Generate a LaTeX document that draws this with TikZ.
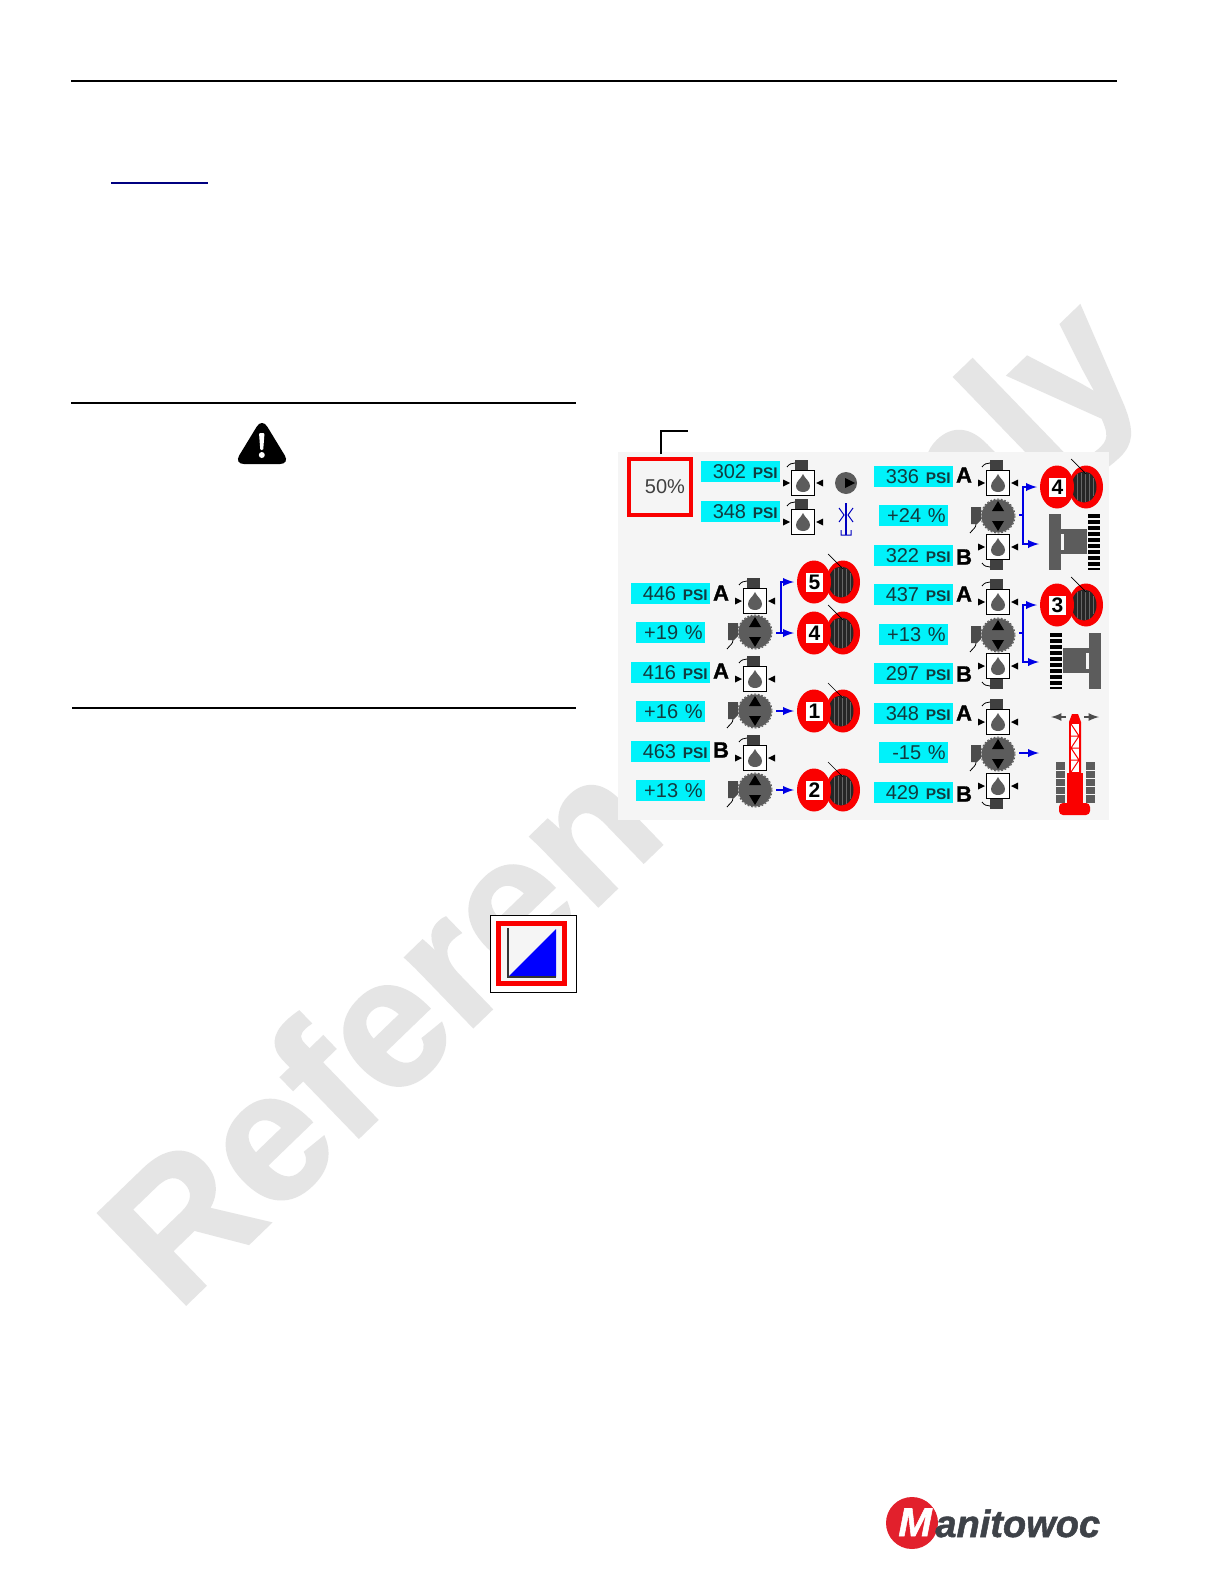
\documentclass[tikz,border=0pt]{standalone}
\usepackage{fontspec}
\setmainfont{Liberation Sans}
\newfontfamily\logofont[FakeBold=1.3]{Liberation Sans}
\usetikzlibrary{calc, positioning}

\definecolor{panelgrey}{HTML}{F5F5F5}
\definecolor{markgrey}{HTML}{E5E5E5}
\definecolor{readcyan}{HTML}{00F2FA}
\definecolor{readink}{HTML}{123C40}
\definecolor{iconred}{HTML}{FA0000}
\definecolor{icongrey}{HTML}{5C5C5C}
\definecolor{logored}{HTML}{E2202C}
\definecolor{logoink}{HTML}{3E4248}

\tikzset{
    rule/.style={line width=1.2pt, black},
    readout/.style={fill=readcyan, text=readink, inner xsep=1.2pt, inner ysep=0pt, text width=37.1pt, align=right, minimum height=10.5pt, font=\fontsize{10}{10}\selectfont},
    pctout/.style={fill=readcyan, text=readink, inner xsep=1.2pt, inner ysep=0pt, text width=32.1pt, align=right, minimum height=10.5pt, font=\fontsize{10}{10}\selectfont},
    tagletter/.style={inner sep=0pt, font=\logofont\bfseries\fontsize{11}{11}\selectfont},
    flowline/.style={blue!90!black, line width=0.9pt, -latex},
    flowstub/.style={blue!90!black, line width=0.9pt},
    pics/valvebox/.style={code={
        \begin{scope}[yscale=#1]
            \fill[black!75] (-8,-23) rectangle (5,-12.5);
            \draw[black, line width=0.4pt] (-8,-20) .. controls (-11,-20) and (-14,-19) .. (-16,-16);
        \end{scope}
        \draw[black, line width=0.8pt, fill=white] (-11.5,-12.5) rectangle (11.5,12.5);
        \fill[icongrey] (0,-9) .. controls (2,-4) and (7,-2) .. (7,3) .. controls (7,11) and (-7,11) .. (-7,3) .. controls (-7,-2) and (-2,-4) .. (0,-9);
        \fill[black] (-20,-3.5) -- (-13,0) -- (-20,3.5) -- cycle;
        \fill[black] (20,-3.5) -- (13,0) -- (20,3.5) -- cycle;
    }},
    pics/pumpgear/.style={code={
        \fill[icongrey] (0,0) circle (16.5);
        \draw[icongrey, line width=0.5pt, dash pattern=on 0.9pt off 0.9pt] (0,0) circle (17);
        \fill[black] (0,-15) -- (6,-5) -- (-6,-5) -- cycle;
        \fill[black] (0,15) -- (6,5) -- (-6,5) -- cycle;
        \fill[black!70] (-27,-9) -- (-17,-9) -- (-17,4) -- (-21,8) -- (-27,8) -- cycle;
        \draw[black, line width=0.4pt] (-22,8) .. controls (-22,12) and (-25,13) .. (-28,17);
        \coordinate (-port) at (21,0);
    }},
    pics/hoistdrum/.style={code={
        \fill[iconred] (29,0) ellipse [x radius=17, y radius=21.5];
        \fill[black!85] (27,0) ellipse [x radius=12.5, y radius=15.5];
        \draw[white!40!black, line width=0.3pt] (20,-13) -- (20,13) (24,-14.5) -- (24,14.5) (28,-15) -- (28,15) (32,-13.5) -- (32,13.5) (36,-9) -- (36,9);
        \fill[iconred] (0,0) ellipse [x radius=17, y radius=21.5];
        \draw[black, line width=0.35pt] (14,-28) -- (29,-13);
        \node[fill=white, inner sep=0pt, minimum width=8.5pt, minimum height=9.5pt, font=\bfseries\fontsize{10.5}{10.5}\selectfont] (-label) at (0.5,0) {#1};
        \coordinate (-port) at (-20,0);
    }},
    pics/crawlerframe/.style={code={
        \fill[icongrey] (-26,-28) rectangle (-14,28);
        \fill[icongrey] (-14,-13) rectangle (12,12);
        \fill[panelgrey] (-14,-8) rectangle (-11,8);
        \draw[black, line width=6pt, dash pattern=on 2pt off 1pt] (19,-28) -- (19,28);
        \coordinate (-port) at (-29,0);
    }}
}

\begin{document}
\begin{tikzpicture}[x=0.5pt, y=-0.5pt]
    \useasboundingbox (0,0) rectangle (1224,1584);
    \fill[white] (0,0) rectangle (1224,1584);

    % watermark first, the panel sits on it
    \node[rotate=44, anchor=base west, inner sep=0pt, text=markgrey, font=\logofont\bfseries\fontsize{92}{92}\selectfont] (watermark) at (177,1313) {Reference Only};

    % page rules
    \draw[rule] (71,81) -- (1117,81);
    \draw[blue!50!black, line width=0.6pt] (111,183) -- (208,183);
    \draw[rule] (71,403) -- (576,403);
    \draw[rule] (72,708) -- (576,708);

    % warning sign
    \fill[black, rounded corners=5pt] (262,418) -- (290,464) -- (234,464) -- cycle;
    \fill[white, rounded corners=0.5pt] (259,433) -- (264.5,433) -- (263.2,450) -- (260.3,450) -- cycle;
    \fill[white] (261.8,455) circle (3);

    % ramp icon
    \draw[black, line width=0.5pt, fill=white] (490,915) rectangle (576,992);
    \draw[iconred, line width=2.5pt, fill=panelgrey] (498.5,923.5) rectangle (564.5,983.5);
    \fill[blue] (508,977) -- (556,977) -- (556,929) -- cycle;
    \draw[black!80, line width=0.6pt] (508,928) -- (508,977) -- (556,977);

    % panel
    \fill[panelgrey] (618,452) rectangle (1109,820);

    \node[draw=iconred, line width=2.4pt, minimum width=31pt, minimum height=28pt, inner sep=0pt] (speedbox) at (660,487) {};
    \node[inner sep=0pt, text=black!75, font=\fontsize{10}{10}\selectfont] (speedtext) at (665,487) {50\%};
    \coordinate (leadstart) at (661,454);
    \coordinate (leadend) at (688,431);
    \draw[black, line width=0.9pt] (leadstart) |- (leadend);

    % top pair
    \node[readout] (readA) at (740.5,471.5) {302 {\bfseries\fontsize{7.7}{7.7}\selectfont PSI}};
    \node[readout] (readB) at (740.5,511.5) {348 {\bfseries\fontsize{7.7}{7.7}\selectfont PSI}};
    \pic (chargeA) at (803,483) {valvebox=1};
    \pic (chargeB) at (803,522) {valvebox=1};
    \fill[icongrey] (846,483) circle (11);
    \fill[black] (845,478) -- (855,483) -- (845,488) -- cycle;
    \draw[blue!75!black, line width=0.6pt] (846,503) -- (846,535);
    \draw[blue!75!black, line width=0.5pt] (839,508) -- (844,515) -- (839,522) (853,508) -- (848,515) -- (853,522) (841,530) -- (841,535) -- (851,535) -- (851,530);

    % left column
    \node[readout] (readC) at (670.5,593.5) {446 {\bfseries\fontsize{7.7}{7.7}\selectfont PSI}};
    \node[pctout] (pctC) at (670.5,632.5) {+19 \%};
    \node[readout] (readD) at (670.5,672.5) {416 {\bfseries\fontsize{7.7}{7.7}\selectfont PSI}};
    \node[pctout] (pctD) at (670.5,711.5) {+16 \%};
    \node[readout] (readE) at (670.5,751.5) {463 {\bfseries\fontsize{7.7}{7.7}\selectfont PSI}};
    \node[pctout] (pctE) at (670.5,790.5) {+13 \%};
    \node[tagletter] (tagC) at (721,593) {A};
    \node[tagletter] (tagD) at (721,671) {A};
    \node[tagletter] (tagE) at (721,750) {B};
    \pic (valveC) at (755,601) {valvebox=1};
    \pic (valveD) at (755,679) {valvebox=1};
    \pic (valveE) at (755,758) {valvebox=1};
    \pic (pumpC) at (755,632) {pumpgear};
    \pic (pumpD) at (755,711) {pumpgear};
    \pic (pumpE) at (755,790) {pumpgear};
    \pic (drumFive) at (814,582) {hoistdrum={5}};
    \pic (drumFourL) at (814,633) {hoistdrum={4}};
    \pic (drumOne) at (814,711) {hoistdrum={1}};
    \pic (drumTwo) at (814,790) {hoistdrum={2}};

    \coordinate (jointC) at (781,633);
    \draw[flowline] (pumpC-port |- jointC) -- (drumFourL-port);
    \draw[flowline] (jointC) |- (drumFive-port);
    \draw[flowline] (pumpD-port) -- (drumOne-port);
    \draw[flowline] (pumpE-port) -- (drumTwo-port);

    % right column
    \node[readout] (readF) at (913.5,476.5) {336 {\bfseries\fontsize{7.7}{7.7}\selectfont PSI}};
    \node[pctout] (pctF) at (913.5,515.5) {+24 \%};
    \node[readout] (readG) at (913.5,555.5) {322 {\bfseries\fontsize{7.7}{7.7}\selectfont PSI}};
    \node[readout] (readH) at (913.5,594.5) {437 {\bfseries\fontsize{7.7}{7.7}\selectfont PSI}};
    \node[pctout] (pctH) at (913.5,634.5) {+13 \%};
    \node[readout] (readI) at (913.5,673.5) {297 {\bfseries\fontsize{7.7}{7.7}\selectfont PSI}};
    \node[readout] (readJ) at (913.5,713.5) {348 {\bfseries\fontsize{7.7}{7.7}\selectfont PSI}};
    \node[pctout] (pctJ) at (913.5,752.5) {-15 \%};
    \node[readout] (readK) at (913.5,792.5) {429 {\bfseries\fontsize{7.7}{7.7}\selectfont PSI}};
    \node[tagletter] (tagF) at (964,475) {A};
    \node[tagletter] (tagG) at (964,557) {B};
    \node[tagletter] (tagH) at (964,594) {A};
    \node[tagletter] (tagI) at (964,674) {B};
    \node[tagletter] (tagJ) at (964,713) {A};
    \node[tagletter] (tagK) at (964,794) {B};
    \pic (valveF) at (998,483) {valvebox=1};
    \pic (valveG) at (998,547) {valvebox=-1};
    \pic (valveH) at (998,602) {valvebox=1};
    \pic (valveI) at (998,666) {valvebox=-1};
    \pic (valveJ) at (998,722) {valvebox=1};
    \pic (valveK) at (998,786) {valvebox=-1};
    \pic (pumpF) at (998,516) {pumpgear};
    \pic (pumpH) at (998,635) {pumpgear};
    \pic (pumpJ) at (998,754) {pumpgear};
    \pic (drumFourR) at (1057,487) {hoistdrum={4}};
    \pic (drumThree) at (1057,605) {hoistdrum={3}};
    \pic (crawlerL) at (1075,542) {crawlerframe};
    \pic[xscale=-1] (crawlerR) at (1075,661) {crawlerframe};

    \coordinate (jointF) at (1023,515);
    \coordinate (crawlerLin) at (1039,544);
    \draw[flowstub] (pumpF-port |- jointF) -- (jointF);
    \draw[flowline] (jointF) |- (drumFourR-port);
    \draw[flowline] (jointF) |- (crawlerLin);
    \coordinate (jointH) at (1023,633);
    \coordinate (crawlerRin) at (1039,662);
    \draw[flowstub] (pumpH-port |- jointH) -- (jointH);
    \draw[flowline] (jointH) |- (drumThree-port);
    \draw[flowline] (jointH) |- (crawlerRin);
    \coordinate (craneIn) at (1039,753);
    \draw[flowline] (pumpJ-port |- craneIn) -- (craneIn);

    % crane icon
    \fill[icongrey] (1056,762) rectangle (1065,803);
    \fill[icongrey] (1086,762) rectangle (1095,803);
    \draw[panelgrey, line width=0.4pt] (1056,770) -- (1065,770) (1056,778) -- (1065,778) (1056,786) -- (1065,786) (1056,794) -- (1065,794) (1086,770) -- (1095,770) (1086,778) -- (1095,778) (1086,786) -- (1095,786) (1086,794) -- (1095,794);
    \fill[iconred] (1069,773) -- (1069,722) -- (1072,714) -- (1078,714) -- (1081,722) -- (1081,773) -- cycle;
    \fill[white] (1071,724) rectangle (1079,772);
    \draw[iconred, line width=0.5pt] (1071,736) -- (1079,736) (1071,748) -- (1079,748) (1071,760) -- (1079,760) (1071,724) -- (1079,736) -- (1071,748) -- (1079,760) -- (1071,772);
    \fill[iconred] (1067,773) rectangle (1083,804);
    \fill[iconred, rounded corners=2pt] (1059,803) -- (1090,803) -- (1090,815) -- (1059,815) -- cycle;
    \coordinate (swingLa) at (1066,717);
    \coordinate (swingLb) at (1051,717);
    \coordinate (swingRa) at (1084,717);
    \coordinate (swingRb) at (1099,717);
    \draw[black!70, line width=0.8pt, -latex] (swingLa) -- (swingLb);
    \draw[black!70, line width=0.8pt, -latex] (swingRa) -- (swingRb);

    % logo
    \fill[logored] (912,1523) circle (26);
    \node[anchor=base west, inner sep=0pt, text=white, font=\logofont\bfseries\itshape\fontsize{20}{20}\selectfont] (logoM) at (898,1536) {M};
    \node[anchor=base west, inner sep=0pt, text=logoink, font=\logofont\bfseries\itshape\fontsize{19}{19}\selectfont] (logoText) at (935,1537) {anitowoc};
\end{tikzpicture}
\end{document}
